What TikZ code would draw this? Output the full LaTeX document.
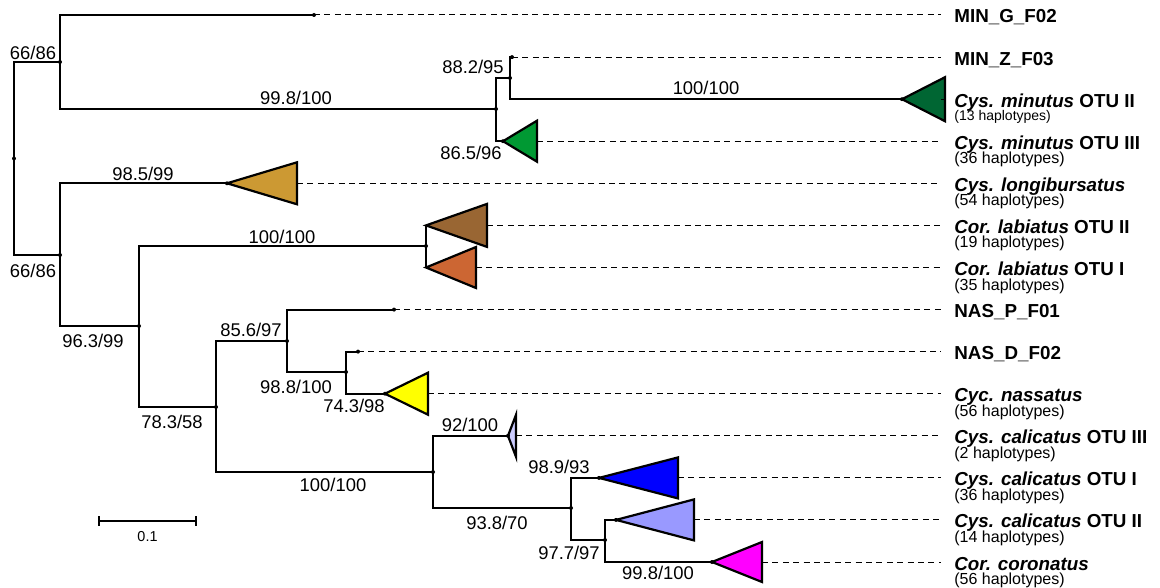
\documentclass[tikz,border=0pt]{standalone}
\usepackage{fontspec}
\setmainfont{Liberation Sans}
\usetikzlibrary{calc}
\definecolor{cDarkGreen}{RGB}{0,102,51}
\definecolor{cGreen}{RGB}{0,153,51}
\definecolor{cGold}{RGB}{204,153,51}
\definecolor{cBrown}{RGB}{153,102,51}
\definecolor{cOrange}{RGB}{204,102,51}
\definecolor{cYellow}{RGB}{255,255,0}
\definecolor{cLavender}{RGB}{204,204,255}
\definecolor{cBlue}{RGB}{0,0,255}
\definecolor{cLightBlue}{RGB}{153,153,255}
\definecolor{cMagenta}{RGB}{255,0,255}
\begin{document}
\begin{tikzpicture}[x=0.5pt, y=-0.5pt,
    branch/.style={line width=1.1pt},
    clade/.style={line width=1.1pt, draw=black},
    leader/.style={line width=0.5pt, dash pattern=on 3pt off 2.2pt, shorten >=6.5pt},
    support/.style={font=\fontsize{9.2}{11}\selectfont, inner sep=0pt},
    taxon/.style={font=\fontsize{9.4}{11}\selectfont\bfseries, inner sep=0pt, anchor=base west},
    haplo/.style={font=\fontsize{8}{9}\selectfont, inner sep=0pt, anchor=base west}]
    \useasboundingbox (0,0) rectangle (1160,588);
    % internal nodes
    \coordinate (nR) at (14,158.5);
    \coordinate (nA) at (60,62);
    \coordinate (nB) at (496,109);
    \coordinate (nC) at (510,78);
    \coordinate (nD) at (60,255);
    \coordinate (nE) at (139,326);
    \coordinate (nI) at (426,246);
    \coordinate (nF) at (216,407);
    \coordinate (nG) at (287,341);
    \coordinate (nH) at (346,372);
    \coordinate (nJ) at (433,472);
    \coordinate (nK) at (571,508);
    \coordinate (nL) at (605,540);
    % tips
    \coordinate (t1) at (314,15);
    \coordinate (t2) at (512,57.1);
    \coordinate (c3) at (902,99.2);
    \coordinate (c4) at (503,141.2);
    \coordinate (c5) at (227,183.3);
    \coordinate (c6) at (426,225.4);
    \coordinate (c7) at (426,267.5);
    \coordinate (t8) at (394,309.6);
    \coordinate (t9) at (358,351.6);
    \coordinate (c10) at (385,393.7);
    \coordinate (c11) at (508,435.8);
    \coordinate (c12) at (599,477.9);
    \coordinate (c13) at (616,519.9);
    \coordinate (c14) at (712,562);
    % right edges of the collapsed clades
    \coordinate (r3) at (c3 -| 945,0);
    \coordinate (r4) at (c4 -| 537,0);
    \coordinate (r5) at (c5 -| 297,0);
    \coordinate (r6) at (c6 -| 487,0);
    \coordinate (r7) at (c7 -| 476,0);
    \coordinate (r10) at (c10 -| 428,0);
    \coordinate (r11) at (c11 -| 516,0);
    \coordinate (r12) at (c12 -| 678,0);
    \coordinate (r13) at (c13 -| 694,0);
    \coordinate (r14) at (c14 -| 762,0);

    % branches
    \draw[branch] (nR) |- (nA) (nR) |- (nD);
    \draw[branch] (nA) |- (t1) (nA) |- (nB);
    \draw[branch] (nB) |- (nC) (nB) |- (c4);
    \draw[branch] (nC) |- (t2) (nC) |- (c3);
    \draw[branch] (nD) |- (c5) (nD) |- (nE);
    \draw[branch] (nE) |- (nI) (nE) |- (nF);
    \draw[branch] (nI) |- (c6) (nI) |- (c7);
    \draw[branch] (nF) |- (nG) (nF) |- (nJ);
    \draw[branch] (nG) |- (t8) (nG) |- (nH);
    \draw[branch] (nH) |- (t9) (nH) |- (c10);
    \draw[branch] (nJ) |- (c11) (nJ) |- (nK);
    \draw[branch] (nK) |- (c12) (nK) |- (nL);
    \draw[branch] (nL) |- (c13) (nL) |- (c14);

    % collapsed clades
    \filldraw[clade, fill=cDarkGreen] (c3) -- ($(r3)+(0,-22)$) -- ($(r3)+(0,22)$) -- cycle;
    \filldraw[clade, fill=cGreen] (c4) -- ($(r4)+(0,-20.5)$) -- ($(r4)+(0,20.5)$) -- cycle;
    \filldraw[clade, fill=cGold] (c5) -- ($(r5)+(0,-21)$) -- ($(r5)+(0,21)$) -- cycle;
    \filldraw[clade, fill=cBrown] (c6) -- ($(r6)+(0,-21.5)$) -- ($(r6)+(0,21.5)$) -- cycle;
    \filldraw[clade, fill=cOrange] (c7) -- ($(r7)+(0,-20.5)$) -- ($(r7)+(0,20.5)$) -- cycle;
    \filldraw[clade, fill=cYellow] (c10) -- ($(r10)+(0,-21)$) -- ($(r10)+(0,21)$) -- cycle;
    \filldraw[clade, fill=cLavender] (c11) -- ($(r11)+(0,-21)$) -- ($(r11)+(0,21)$) -- cycle;
    \filldraw[clade, fill=cBlue] (c12) -- ($(r12)+(0,-20.5)$) -- ($(r12)+(0,20.5)$) -- cycle;
    \filldraw[clade, fill=cLightBlue] (c13) -- ($(r13)+(0,-20.5)$) -- ($(r13)+(0,20.5)$) -- cycle;
    \filldraw[clade, fill=cMagenta] (c14) -- ($(r14)+(0,-20)$) -- ($(r14)+(0,20)$) -- cycle;

    % node dots
    \foreach \p in {nR,nA,nB,nC,nD,nE,nI,nF,nG,nH,nJ,nK,nL,t1,t2,t8,t9,c3,c4,c5,c10,c11,c12,c13,c14}
        \fill (\p) circle (2);

    % taxon labels
    \node[taxon] (l1) at (954,23) {MIN\_G\_F02};
    \node[taxon] (l2) at (954,65.1) {MIN\_Z\_F03};
    \node[taxon] (l3) at (954,107.2) {\textit{Cys. minutus} OTU II};
    \node[taxon] (l4) at (954,149.2) {\textit{Cys. minutus} OTU III};
    \node[taxon] (l5) at (954,191.3) {\textit{Cys. longibursatus}};
    \node[taxon] (l6) at (954,233.4) {\textit{Cor. labiatus} OTU II};
    \node[taxon] (l7) at (954,275.5) {\textit{Cor. labiatus} OTU I};
    \node[taxon] (l8) at (954,317.6) {NAS\_P\_F01};
    \node[taxon] (l9) at (954,359.6) {NAS\_D\_F02};
    \node[taxon] (l10) at (954,401.7) {\textit{Cyc. nassatus}};
    \node[taxon] (l11) at (954,443.8) {\textit{Cys. calicatus} OTU III};
    \node[taxon] (l12) at (954,485.9) {\textit{Cys. calicatus} OTU I};
    \node[taxon] (l13) at (954,527.9) {\textit{Cys. calicatus} OTU II};
    \node[taxon] (l14) at (954,570) {\textit{Cor. coronatus}};
    \node[haplo, font=\fontsize{7}{8}\selectfont] (h3) at ($(l3.base west)+(0,13)$) {(13 haplotypes)};
    \node[haplo] (h4) at ($(l4.base west)+(0,14.5)$) {(36 haplotypes)};
    \node[haplo] (h5) at ($(l5.base west)+(0,14.5)$) {(54 haplotypes)};
    \node[haplo] (h6) at ($(l6.base west)+(0,14.5)$) {(19 haplotypes)};
    \node[haplo] (h7) at ($(l7.base west)+(0,14.5)$) {(35 haplotypes)};
    \node[haplo] (h10) at ($(l10.base west)+(0,14.5)$) {(56 haplotypes)};
    \node[haplo] (h11) at ($(l11.base west)+(0,14.5)$) {(2 haplotypes)};
    \node[haplo] (h12) at ($(l12.base west)+(0,14.5)$) {(36 haplotypes)};
    \node[haplo] (h13) at ($(l13.base west)+(0,14.5)$) {(14 haplotypes)};
    \node[haplo] (h14) at ($(l14.base west)+(0,14.5)$) {(56 haplotypes)};

    % dashed leaders
    \draw[leader] (t1) -- (t1 -| l1.west);
    \draw[leader] (t2) -- (t2 -| l2.west);
    \draw[leader] (r3) -- (r3 -| l3.west);
    \draw[leader] (r4) -- (r4 -| l4.west);
    \draw[leader] (r5) -- (r5 -| l5.west);
    \draw[leader] (r6) -- (r6 -| l6.west);
    \draw[leader] (r7) -- (r7 -| l7.west);
    \draw[leader] (t8) -- (t8 -| l8.west);
    \draw[leader] (t9) -- (t9 -| l9.west);
    \draw[leader] (r10) -- (r10 -| l10.west);
    \draw[leader] (r11) -- (r11 -| l11.west);
    \draw[leader] (r12) -- (r12 -| l12.west);
    \draw[leader] (r13) -- (r13 -| l13.west);
    \draw[leader] (r14) -- (r14 -| l14.west);

    % support values
    \node[support] (s1) at (33,53) {66/86};
    \node[support] (s2) at (296,98) {99.8/100};
    \node[support] (s3) at (473,67) {88.2/95};
    \node[support] (s4) at (471,153) {86.5/96};
    \node[support] (s5) at (706,88) {100/100};
    \node[support] (s6) at (143,174) {98.5/99};
    \node[support] (s7) at (33,271) {66/86};
    \node[support] (s8) at (93,341) {96.3/99};
    \node[support] (s9) at (282,237) {100/100};
    \node[support] (s10) at (172,422) {78.3/58};
    \node[support] (s11) at (251,330) {85.6/97};
    \node[support] (s12) at (333,485) {100/100};
    \node[support] (s13) at (296,387) {98.8/100};
    \node[support] (s14) at (354,406) {74.3/98};
    \node[support] (s15) at (470,425) {92/100};
    \node[support] (s16) at (497,523) {93.8/70};
    \node[support] (s17) at (559,467) {98.9/93};
    \node[support] (s18) at (569,553) {97.7/97};
    \node[support] (s19) at (658,573) {99.8/100};

    % scale bar
    \coordinate (sbL) at (99,521);
    \coordinate (sbR) at (196,521);
    \draw[branch] (sbL) -- (sbR);
    \draw[branch] ($(sbL)+(0,-5)$) -- ($(sbL)+(0,5)$);
    \draw[branch] ($(sbR)+(0,-5)$) -- ($(sbR)+(0,5)$);
    \node[haplo, anchor=center, font=\fontsize{7.2}{8}\selectfont] (sbLab) at ($(sbL)!0.5!(sbR)+(0,16)$) {0.1};
\end{tikzpicture}
\end{document}
